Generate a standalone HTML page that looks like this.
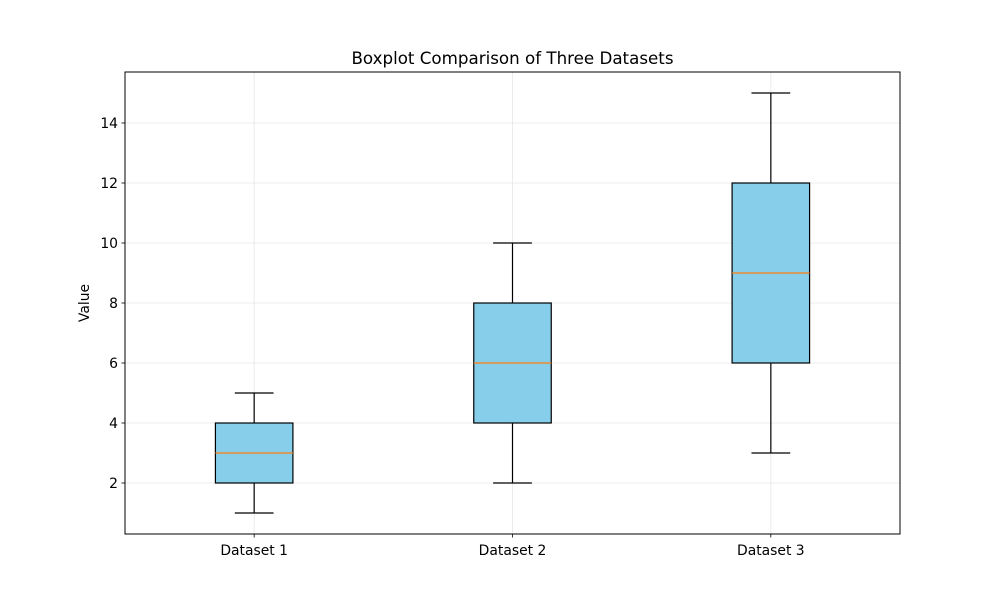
<!DOCTYPE html>
<html><head><meta charset="utf-8"><style>body{margin:0;background:#fff}svg{display:block;font-family:"DejaVu Sans","Liberation Sans",sans-serif}</style></head>
<body>
<svg id="chart" width="1000" height="600" viewBox="0 0 1000 600"></svg>
<script>
const categories = ["Dataset 1","Dataset 2","Dataset 3"];
const whiskerLow = [1,2,3];
const q1 = [2,4,6];
const medians = [3,6,9];
const q3 = [4,8,12];
const whiskerHigh = [5,10,15];
const yTicks = [2,4,6,8,10,12,14];

const L=125,R=900,T=72,B=534, yMin=0.3, yMax=15.7;
const NS="http://www.w3.org/2000/svg";
const svg=document.getElementById('chart');
const xs=i=>L+(i+1-0.5)/3*(R-L);
const ys=v=>B-(v-yMin)/(yMax-yMin)*(B-T);
const pxPerUnit=(R-L)/3;
function el(tag,attrs,parent){const e=document.createElementNS(NS,tag);for(const k in attrs)e.setAttribute(k,attrs[k]);(parent||svg).appendChild(e);return e;}

const grid=el('g',{});


yTicks.forEach(v=>{const y=ys(v);
 const g=el('line',{x1:L,x2:R,y1:y,y2:y,stroke:'#e6e6e6','stroke-width':0.8},grid);
 
 
 const t=el('line',{x1:L-3.5,x2:L,y1:y,y2:y,stroke:'#000','stroke-width':0.8});
 
 
 const tx=el('text',{x:L-7,y:y+5,'text-anchor':'end','font-size':13.9});
 tx.textContent=v;
 
 
});
categories.forEach((c,i)=>{const x=xs(i);
 const g=el('line',{x1:x,x2:x,y1:T,y2:B,stroke:'#e6e6e6','stroke-width':0.8},grid);
 
 
 const t=el('line',{x1:x,x2:x,y1:B,y2:B+3.5,stroke:'#000','stroke-width':0.8});
 
 
 const tx=el('text',{x:x,y:B+21,'text-anchor':'middle','font-size':13.9});
 tx.textContent=c;
 
 
});
categories.forEach((c,i)=>{const x=xs(i),hw=0.15*pxPerUnit,cw=hw/2;
 const g=el('g',{});
 
 
 el('line',{x1:x,x2:x,y1:ys(whiskerLow[i]),y2:ys(q1[i]),stroke:'#000','stroke-width':1.2},g);
 el('line',{x1:x,x2:x,y1:ys(q3[i]),y2:ys(whiskerHigh[i]),stroke:'#000','stroke-width':1.2},g);
 el('line',{x1:x-cw,x2:x+cw,y1:ys(whiskerLow[i]),y2:ys(whiskerLow[i]),stroke:'#000','stroke-width':1.2},g);
 el('line',{x1:x-cw,x2:x+cw,y1:ys(whiskerHigh[i]),y2:ys(whiskerHigh[i]),stroke:'#000','stroke-width':1.2},g);
 el('rect',{x:x-hw,y:ys(q3[i]),width:2*hw,height:ys(q1[i])-ys(q3[i]),fill:'#87ceeb',stroke:'#000','stroke-width':1.2},g);
 el('line',{x1:x-hw,x2:x+hw,y1:ys(medians[i]),y2:ys(medians[i]),stroke:'#ff7f0e','stroke-width':1.2},g);
});
const fr=el('rect',{x:L,y:T,width:R-L,height:B-T,fill:'none',stroke:'#000','stroke-width':1});


const title=el('text',{x:(L+R)/2,y:64,'text-anchor':'middle','font-size':16.7});
title.textContent='Boxplot Comparison of Three Datasets';


const yl=el('text',{x:0,y:0,'text-anchor':'middle','font-size':13.9,transform:'translate(89,303) rotate(-90)'});
yl.textContent='Value';


</script>
</body></html>
